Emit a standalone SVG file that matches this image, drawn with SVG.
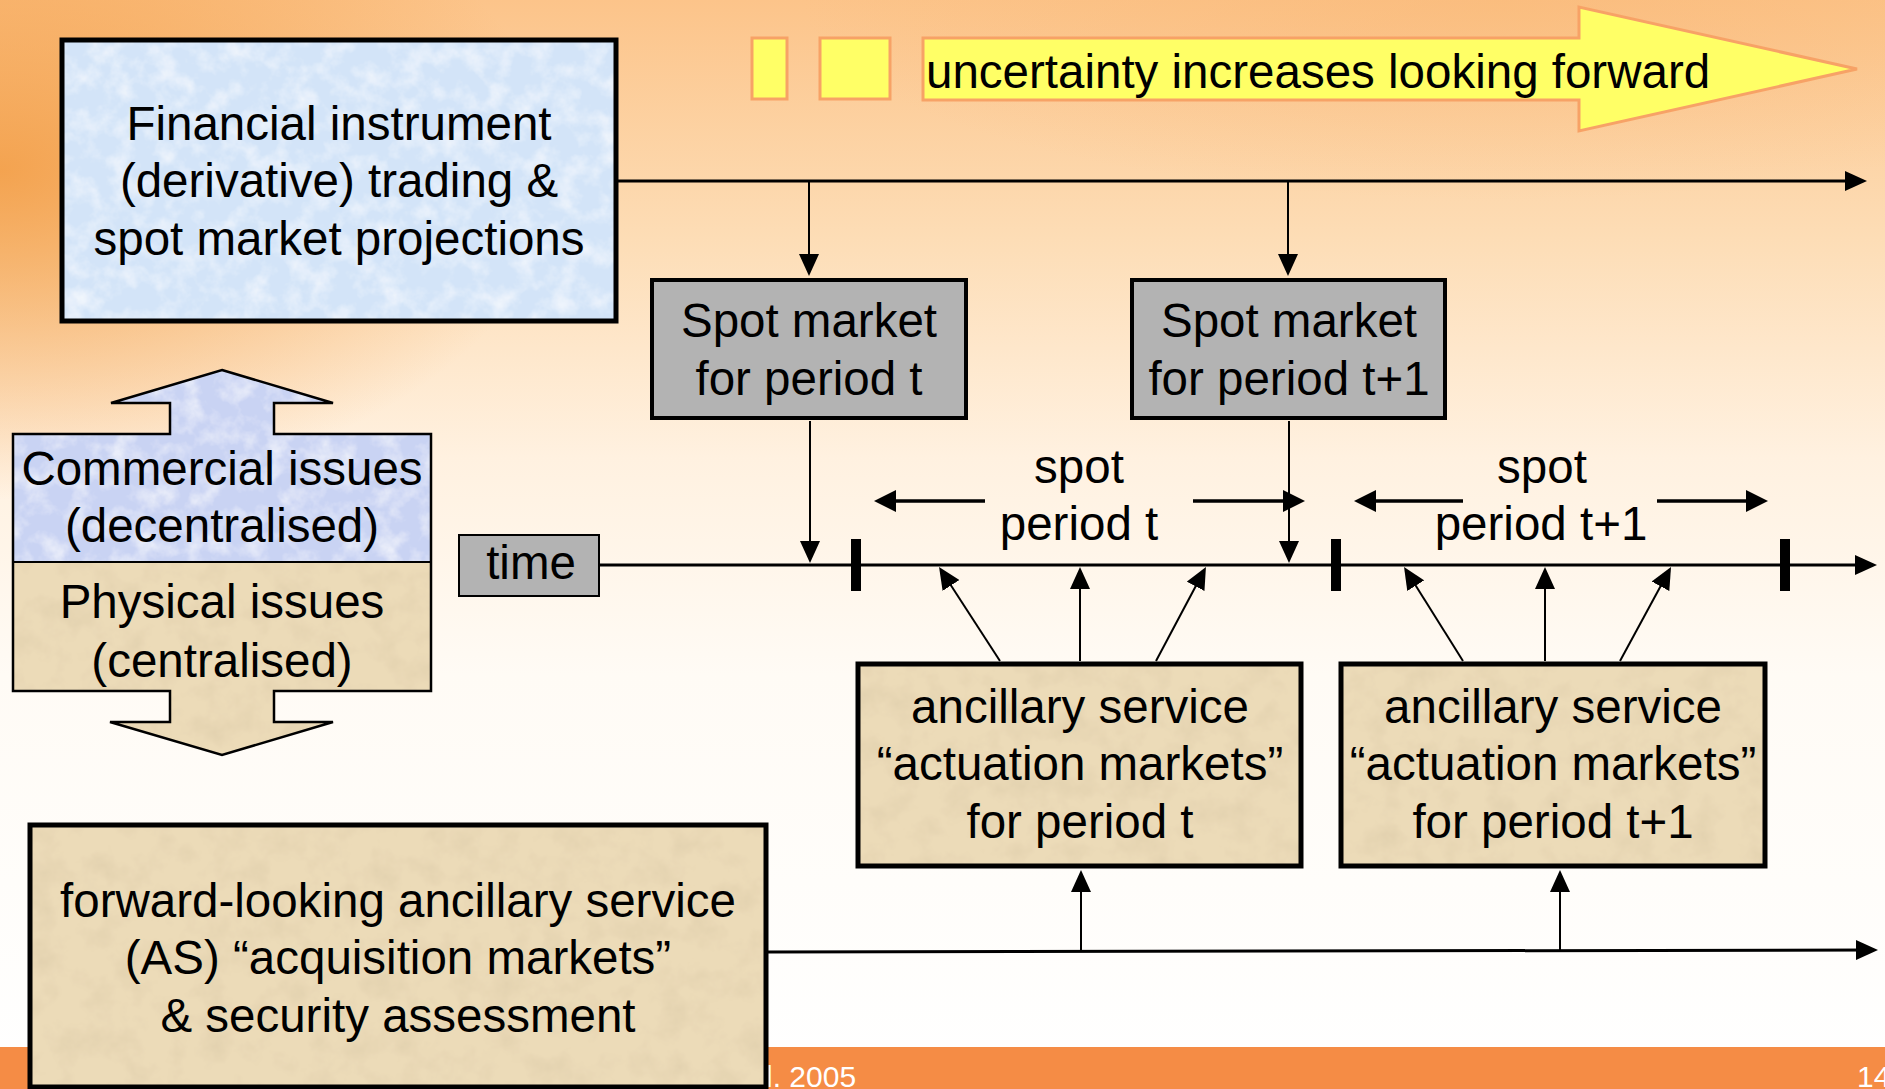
<svg xmlns="http://www.w3.org/2000/svg" width="1885" height="1089" viewBox="0 0 1885 1089">
<style>
.t{font-family:"Liberation Sans",Arial,Helvetica,sans-serif;font-size:47.5px;fill:#000;text-anchor:middle}
.ts{text-anchor:start}
.ft{font-family:"Liberation Sans",Arial,Helvetica,sans-serif;font-size:30px;fill:#FFFFFF}
.main{stroke:#000;stroke-width:3;fill:none;marker-end:url(#ah)}
.thin{stroke:#000;stroke-width:2;fill:none;marker-end:url(#ah)}
.per{stroke:#000;stroke-width:3.5;fill:none;marker-end:url(#ahb)}
.tick{fill:#000}
.box{fill:none;stroke:#000;stroke-width:5}
.gray{fill:#B3B3B3;stroke:#000;stroke-width:4}
.blue{fill:#D3E4F8}
.lav{fill:#C9D3F3}
.beige{fill:#ECDBB8}
.yel{fill:#FFFF66;stroke:#F7A266;stroke-width:3}
</style>
<defs>
 <linearGradient id="bgV" x1="0" y1="0" x2="0" y2="1">
  <stop offset="0" stop-color="#FCC48A"/>
  <stop offset="0.22" stop-color="#FDDDB6"/>
  <stop offset="0.42" stop-color="#FFF1E0"/>
  <stop offset="0.62" stop-color="#FFFBF5"/>
  <stop offset="1" stop-color="#FFFFFF"/>
 </linearGradient>
 <radialGradient id="bgL" gradientUnits="userSpaceOnUse" cx="0" cy="0" r="1" gradientTransform="translate(0,170) scale(560,330)">
  <stop offset="0" stop-color="#F29A40" stop-opacity="0.85"/>
  <stop offset="1" stop-color="#F29A40" stop-opacity="0"/>
 </radialGradient>
 <radialGradient id="bgT" gradientUnits="userSpaceOnUse" cx="0" cy="0" r="1" gradientTransform="translate(1500,0) scale(700,200)">
  <stop offset="0" stop-color="#F8B470" stop-opacity="0.45"/>
  <stop offset="1" stop-color="#F8B470" stop-opacity="0"/>
 </radialGradient>
 <filter id="paper" x="0" y="0" width="100%" height="100%">
  <feTurbulence type="fractalNoise" baseFrequency="0.045" numOctaves="4" seed="7" result="n"/>
  <feColorMatrix in="n" type="matrix" values="0 0 0 0 1  0 0 0 0 1  0 0 0 0 1  1.3 0 0 0 -0.55" result="spots"/>
  <feComposite in="spots" in2="SourceGraphic" operator="atop"/>
 </filter>
 <filter id="paperD" x="0" y="0" width="100%" height="100%">
  <feTurbulence type="fractalNoise" baseFrequency="0.035" numOctaves="4" seed="11" result="n"/>
  <feColorMatrix in="n" type="matrix" values="0 0 0 0 0.72  0 0 0 0 0.6  0 0 0 0 0.4  1.2 0 0 0 -0.5" result="spots"/>
  <feComposite in="spots" in2="SourceGraphic" operator="atop"/>
 </filter>
 <marker id="ah" viewBox="0 0 22 20" refX="14" refY="10" markerWidth="22" markerHeight="20" markerUnits="userSpaceOnUse" orient="auto">
  <path d="M0,0 L22,10 L0,20 Z" fill="#000"/>
 </marker>
 <marker id="ahb" viewBox="0 0 22 22" refX="14" refY="11" markerWidth="22" markerHeight="22" markerUnits="userSpaceOnUse" orient="auto">
  <path d="M0,0 L22,11 L0,22 Z" fill="#000"/>
 </marker>
</defs>

<!-- background -->
<rect x="0" y="0" width="1885" height="1089" fill="url(#bgV)"/>
<rect x="0" y="0" width="1885" height="1089" fill="url(#bgT)"/>
<rect x="0" y="0" width="1885" height="1089" fill="url(#bgL)"/>

<!-- footer band -->
<g id="footer">
 <rect x="0" y="1047" width="1885" height="42" fill="#F58C45"/>
 <text class="ft" x="766" y="1087">l. 2005</text>
 <text class="ft" x="1857" y="1087">14</text>
</g>

<!-- uncertainty banner -->
<g id="uncertainty">
 <rect class="yel" x="752" y="38" width="35" height="61"/>
 <rect class="yel" x="820" y="38" width="70" height="61"/>
 <path class="yel" d="M923,38 L1579,38 L1579,7 L1857,69 L1579,131 L1579,100 L923,100 Z"/>
 <text class="t ts" x="926" y="88">uncertainty increases looking forward</text>
</g>

<!-- connectors -->
<g id="connectors">
 <line class="main" x1="618" y1="181" x2="1859" y2="181"/>
 <line class="thin" x1="809" y1="182" x2="809" y2="268"/>
 <line class="thin" x1="1288" y1="182" x2="1288" y2="268"/>
 <line class="main" x1="600" y1="565" x2="1869" y2="565"/>
 <line class="thin" x1="810" y1="421" x2="810" y2="555"/>
 <line class="thin" x1="1289" y1="421" x2="1289" y2="555"/>
 <rect class="tick" x="851" y="539" width="10" height="52"/>
 <rect class="tick" x="1331" y="539" width="10" height="52"/>
 <rect class="tick" x="1780" y="539" width="10" height="52"/>
 <line class="per" x1="985" y1="501" x2="882" y2="501"/>
 <line class="per" x1="1193" y1="501" x2="1297" y2="501"/>
 <line class="per" x1="1463" y1="501" x2="1362" y2="501"/>
 <line class="per" x1="1657" y1="501" x2="1760" y2="501"/>
 <line class="thin" x1="1000" y1="661" x2="943.4" y2="573.7"/>
 <line class="thin" x1="1080" y1="661" x2="1080" y2="575"/>
 <line class="thin" x1="1156" y1="661" x2="1202.2" y2="574"/>
 <line class="thin" x1="1463" y1="661" x2="1408.3" y2="573.8"/>
 <line class="thin" x1="1545" y1="661" x2="1545" y2="575"/>
 <line class="thin" x1="1620" y1="661" x2="1667.2" y2="574"/>
 <line class="main" x1="766" y1="952" x2="1870" y2="950"/>
 <line class="thin" x1="1081" y1="951" x2="1081" y2="878"/>
 <line class="thin" x1="1560" y1="951" x2="1560" y2="878"/>
</g>

<!-- financial instrument box -->
<g id="financial">
 <rect class="blue" filter="url(#paper)" x="62" y="40" width="554" height="281"/>
 <rect class="box" x="62" y="40" width="554" height="281"/>
 <text class="t" x="339" y="140">Financial instrument</text>
 <text class="t" x="339" y="197">(derivative) trading &amp;</text>
 <text class="t" x="339" y="255">spot market projections</text>
</g>

<!-- spot market boxes -->
<g id="spot-t">
 <rect class="gray" x="652" y="280" width="314" height="138"/>
 <text class="t" x="809" y="337">Spot market</text>
 <text class="t" x="809" y="395">for period t</text>
</g>
<g id="spot-t1">
 <rect class="gray" x="1132" y="280" width="313" height="138"/>
 <text class="t" x="1289" y="337">Spot market</text>
 <text class="t" x="1289" y="395">for period t+1</text>
</g>

<!-- commercial / physical double arrow -->
<g id="issues">
 <path class="lav" filter="url(#paper)" d="M222,370 L333,403 L274,403 L274,434 L431,434 L431,562 L13,562 L13,434 L170,434 L170,403 L111,403 Z"/>
 <path class="beige" filter="url(#paperD)" d="M13,562 L431,562 L431,691 L274,691 L274,722 L333,722 L222,755 L110,722 L170,722 L170,691 L13,691 Z"/>
 <path d="M222,370 L333,403 L274,403 L274,434 L431,434 L431,691 L274,691 L274,722 L333,722 L222,755 L110,722 L170,722 L170,691 L13,691 L13,434 L170,434 L170,403 L111,403 Z" fill="none" stroke="#000" stroke-width="2.5" stroke-linejoin="miter"/>
 <line x1="13" y1="562" x2="431" y2="562" stroke="#000" stroke-width="2"/>
 <text class="t" x="222" y="485">Commercial issues</text>
 <text class="t" x="222" y="542">(decentralised)</text>
 <text class="t" x="222" y="618">Physical issues</text>
 <text class="t" x="222" y="677">(centralised)</text>
</g>

<!-- time label -->
<g id="time">
 <rect x="459" y="535" width="140" height="61" fill="#B3B3B3" stroke="#000" stroke-width="2"/>
 <text class="t" x="531" y="579">time</text>
</g>

<!-- spot period labels -->
<g id="period-t">
 <text class="t" x="1079" y="483">spot</text>
 <text class="t" x="1079" y="540">period t</text>
</g>
<g id="period-t1">
 <text class="t" x="1542" y="483">spot</text>
 <text class="t" x="1541" y="540">period t+1</text>
</g>

<!-- ancillary service actuation boxes -->
<g id="actuation-t">
 <rect class="beige" filter="url(#paperD)" x="858" y="664" width="443" height="202"/>
 <rect class="box" x="858" y="664" width="443" height="202"/>
 <text class="t" x="1080" y="723">ancillary service</text>
 <text class="t" x="1080" y="780">“actuation markets”</text>
 <text class="t" x="1080" y="838">for period t</text>
</g>
<g id="actuation-t1">
 <rect class="beige" filter="url(#paperD)" x="1341" y="664" width="424" height="202"/>
 <rect class="box" x="1341" y="664" width="424" height="202"/>
 <text class="t" x="1553" y="723">ancillary service</text>
 <text class="t" x="1553" y="780">“actuation markets”</text>
 <text class="t" x="1553" y="838">for period t+1</text>
</g>

<!-- acquisition box -->
<g id="acquisition">
 <rect class="beige" filter="url(#paperD)" x="30" y="825" width="736" height="262"/>
 <rect class="box" x="30" y="825" width="736" height="262"/>
 <text class="t" x="398" y="917">forward-looking ancillary service</text>
 <text class="t" x="398" y="974">(AS) “acquisition markets”</text>
 <text class="t" x="398" y="1032">&amp; security assessment</text>
</g>
</svg>
